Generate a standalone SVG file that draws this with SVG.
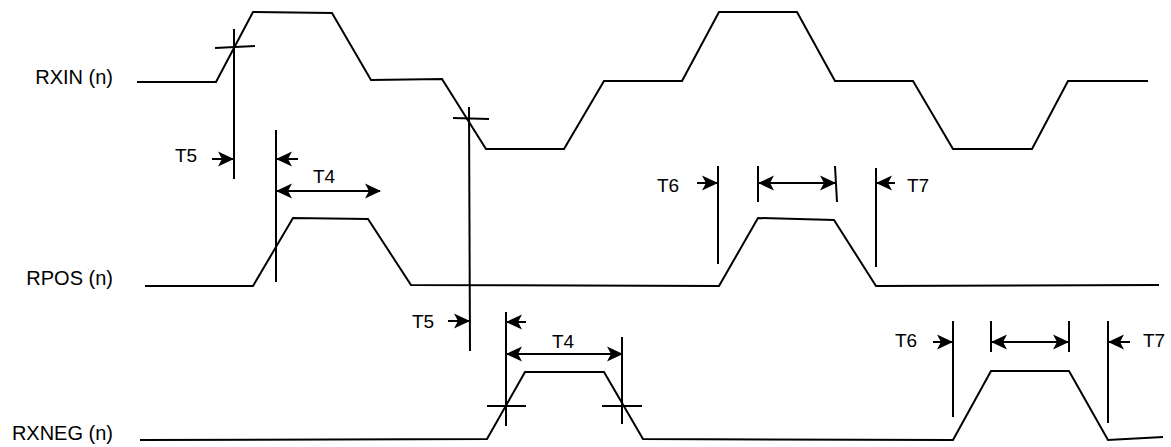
<svg xmlns="http://www.w3.org/2000/svg" width="1171" height="447" viewBox="0 0 1171 447">
<style>
.w{fill:none;stroke:#000;stroke-width:2;stroke-linejoin:miter}
.m{fill:none;stroke:#000;stroke-width:2}
.a{fill:none;stroke:#000;stroke-width:2;marker-end:url(#ah)}
.d{fill:none;stroke:#000;stroke-width:2;marker-end:url(#ah);marker-start:url(#ahs)}
.t{font-family:"Liberation Sans",Arial,sans-serif;font-size:19px;fill:#000}
.l{font-family:"Liberation Sans",Arial,sans-serif;font-size:20px;fill:#000;text-anchor:end}
</style>
<defs>
<marker id="ah" viewBox="0 0 16 16" refX="15" refY="8" markerWidth="16" markerHeight="16" markerUnits="userSpaceOnUse" orient="auto"><path d="M0,0.5 L16,8 L0,15.5 L4,8 z" fill="#000"/></marker>
<marker id="ahs" viewBox="0 0 16 16" refX="15" refY="8" markerWidth="16" markerHeight="16" markerUnits="userSpaceOnUse" orient="auto-start-reverse"><path d="M0,0.5 L16,8 L0,15.5 L4,8 z" fill="#000"/></marker>
</defs>
<rect width="1171" height="447" fill="#fff"/>
<g id="rxin">
<text class="l" x="113" y="84">RXIN (n)</text>
<polyline class="w" points="137,82 216,82 253,12 332,13 371,80 442,79 486,149 564,149 604,81 682,81 719,12 797,12 835,81 913,81 953,149 1032,149 1068,81 1148,81"/>
</g>
<g id="rpos">
<text class="l" x="113" y="285">RPOS (n)</text>
<polyline class="w" points="145,286 253,286 293,218 368,219 411,285 719,286 758,218 834,220 876,286 1159,285"/>
</g>
<g id="rxneg">
<text class="l" x="113" y="440">RXNEG (n)</text>
<polyline class="w" points="140,440 487,439 525,372 604,372 643,439 953,440 991,371 1069,371 1108,440 1163,437"/>
</g>
<g id="connectors">
<line class="m" x1="234" y1="29" x2="234" y2="179"/>
<line class="m" x1="215" y1="48" x2="255" y2="46"/>
<line class="m" x1="276" y1="130" x2="276" y2="282"/>
<line class="a" x1="212" y1="159" x2="233" y2="159"/>
<line class="a" x1="298" y1="159" x2="277" y2="159"/>
<line class="d" x1="277" y1="191" x2="380" y2="191"/>
<line class="m" x1="469" y1="107" x2="470" y2="351"/>
<line class="m" x1="453" y1="118" x2="489" y2="119"/>
<line class="a" x1="448" y1="321" x2="469" y2="321"/>
<line class="m" x1="506" y1="312" x2="506" y2="426"/>
<line class="a" x1="526" y1="322" x2="507" y2="322"/>
<line class="d" x1="507" y1="354" x2="622" y2="354"/>
<line class="m" x1="622" y1="337" x2="622" y2="424"/>
<line class="m" x1="487" y1="406" x2="526" y2="406"/>
<line class="m" x1="602" y1="406" x2="642" y2="406"/>
<line class="m" x1="718" y1="166" x2="718" y2="264"/>
<line class="a" x1="697" y1="183" x2="717" y2="183"/>
<line class="m" x1="758" y1="166" x2="758" y2="202"/>
<line class="m" x1="835" y1="166" x2="837" y2="202"/>
<line class="d" x1="759" y1="183" x2="835" y2="183"/>
<line class="m" x1="876" y1="168" x2="876" y2="267"/>
<line class="a" x1="895" y1="183" x2="877" y2="183"/>
<line class="m" x1="953" y1="321" x2="953" y2="417"/>
<line class="a" x1="933" y1="342" x2="952" y2="342"/>
<line class="m" x1="991" y1="321" x2="991" y2="352"/>
<line class="m" x1="1069" y1="321" x2="1069" y2="352"/>
<line class="d" x1="992" y1="342" x2="1068" y2="342"/>
<line class="m" x1="1108" y1="321" x2="1108" y2="423"/>
<line class="a" x1="1130" y1="342" x2="1109" y2="342"/>
</g>
<g id="labels">
<text class="t" x="175" y="162">T5</text>
<text class="t" x="313" y="183">T4</text>
<text class="t" x="657" y="192">T6</text>
<text class="t" x="907" y="192">T7</text>
<text class="t" x="412" y="328">T5</text>
<text class="t" x="552" y="348">T4</text>
<text class="t" x="895" y="347">T6</text>
<text class="t" x="1143" y="347">T7</text>
</g>
</svg>
